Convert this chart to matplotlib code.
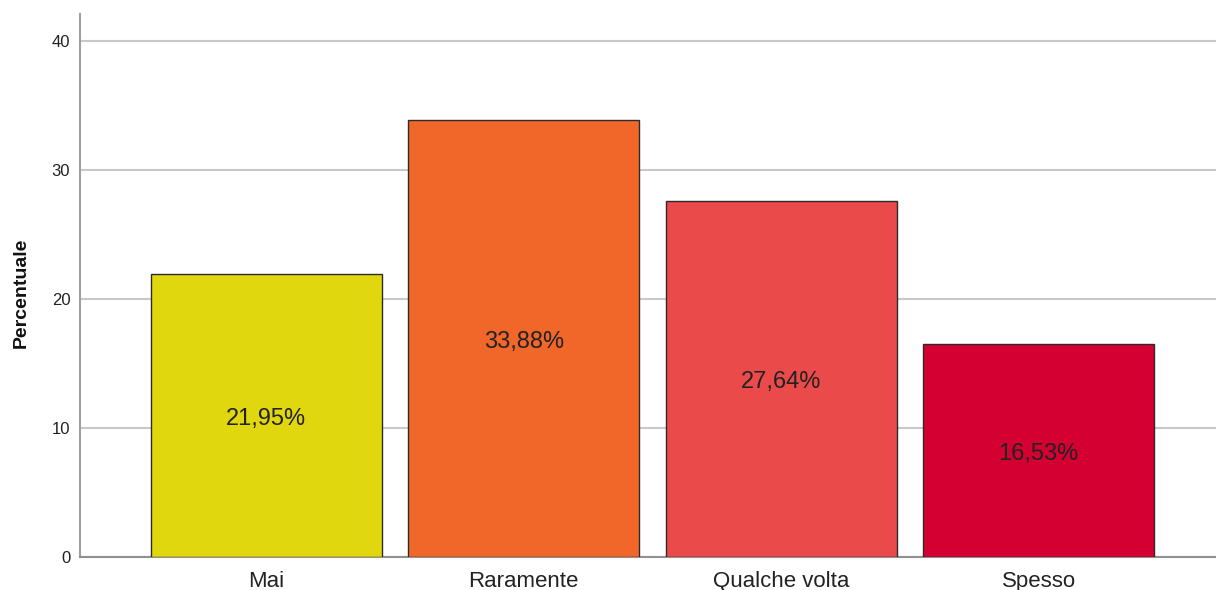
"""Bar chart of answer frequencies (percent) with in-bar value labels."""

import matplotlib
matplotlib.use("Agg")
import matplotlib.pyplot as plt

categories = ["Mai", "Raramente", "Qualche volta", "Spesso"]
percentages = [21.95, 33.88, 27.64, 16.53]
bar_colors = ["#E1D70F", "#F1672A", "#EB4A4B", "#D50032"]
y_ticks = [0, 10, 20, 30, 40]

plt.rcParams["font.family"] = ["Liberation Sans", "DejaVu Sans"]

fig = plt.figure(figsize=(12.16, 5.9), dpi=100)
# axes run a little past the right edge of the canvas
ax = fig.add_axes([80 / 1216, 33 / 590, 1145 / 1216, 543 / 590])

x = range(len(categories))
bars = ax.bar(x, percentages, width=0.897, color=bar_colors,
              edgecolor="#2b2b2b", linewidth=1.0, zorder=3)

for rect, val in zip(bars, percentages):
    label = f"{val:.2f}%".replace(".", ",")
    ax.text(rect.get_x() + rect.get_width() / 2, val / 2 - 0.25, label,
            ha="center", va="center", fontsize=17, color="#222222", zorder=4)

ax.set_xlim(-0.724, 3.724)
ax.set_ylim(0, 42.1)
ax.set_yticks(y_ticks)
ax.set_xticks(list(x))
ax.set_xticklabels(categories, fontsize=16, color="#222222")
ax.tick_params(axis="y", length=0, pad=7, labelsize=12, labelcolor="#222222")
ax.tick_params(axis="x", length=0, pad=10)

ax.yaxis.grid(True, color="#C8C8C8", linewidth=1.5, zorder=0)
ax.set_axisbelow(True)

for side in ("top", "right"):
    ax.spines[side].set_visible(False)
ax.spines["left"].set_color("#A0A0A0")
ax.spines["left"].set_linewidth(1.5)
ax.spines["bottom"].set_color("#909090")
ax.spines["bottom"].set_linewidth(1.5)

fig.text(21 / 1216, 1 - 293 / 590, "Percentuale", rotation=90,
         ha="center", va="center", fontsize=14, fontweight="bold",
         color="#111111")

fig.savefig("out.png", dpi=100)
